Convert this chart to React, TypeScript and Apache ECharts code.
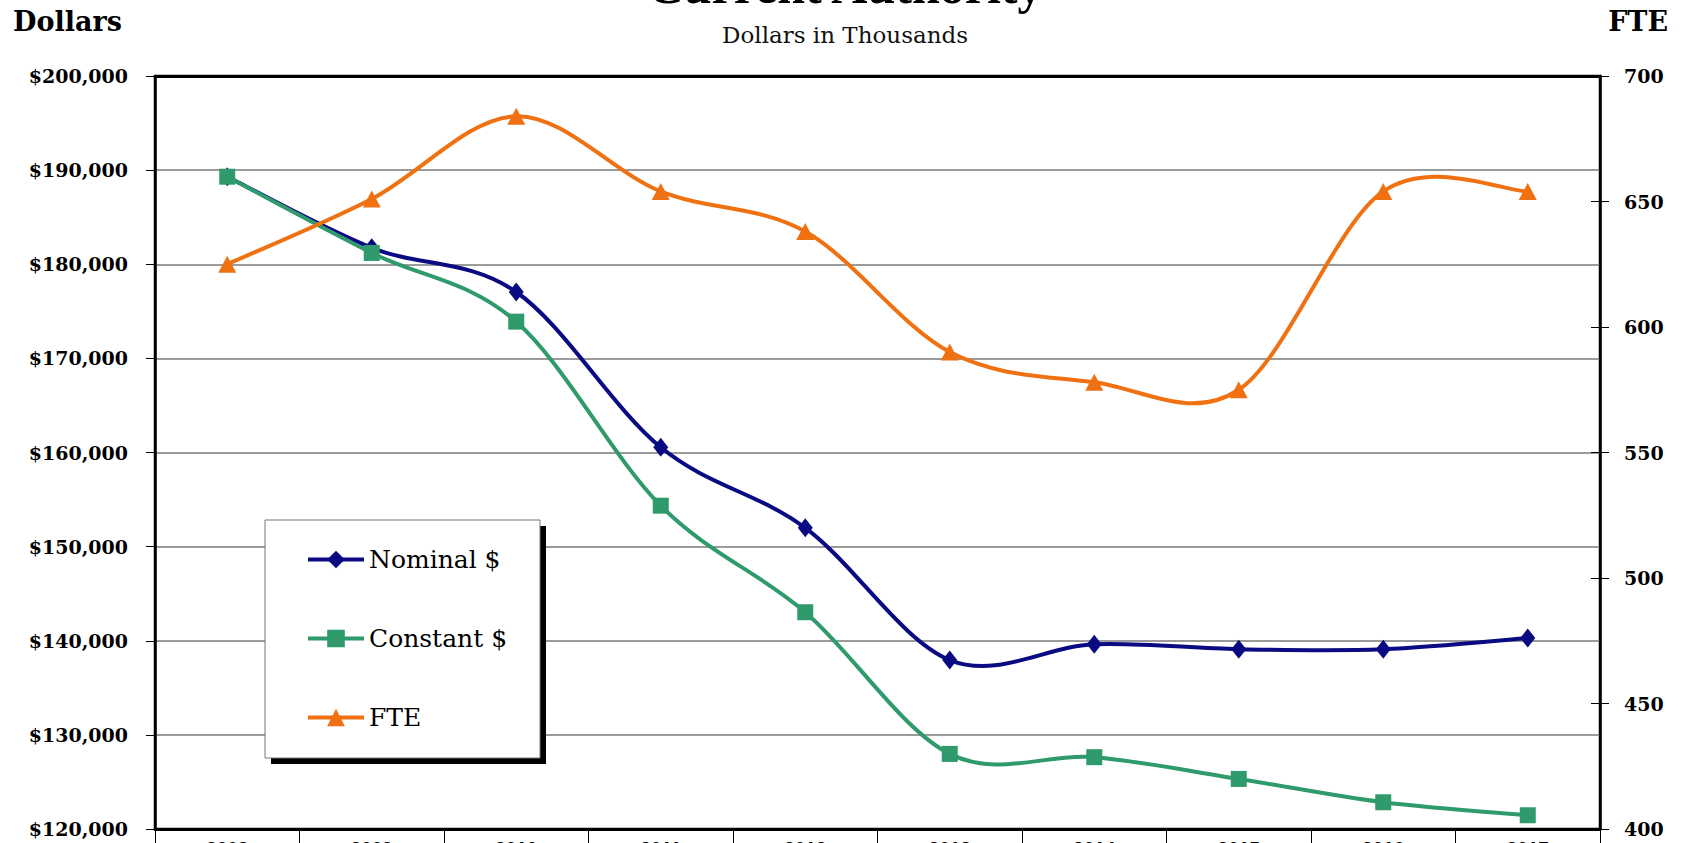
import React, { useEffect, useRef } from "react";
import * as echarts from "echarts";

const years = ["2008", "2009", "2010", "2011", "2012", "2013", "2014", "2015", "2016", "2017"];
const nominal = [189300, 181750, 177050, 160550, 152000, 137950, 139630, 139100, 139100, 140280];
const constant = [189300, 181200, 173900, 154350, 143030, 127980, 127630, 125320, 122840, 121460];
const fte = [625, 651, 684, 654, 638, 590, 578, 575, 654, 654];

const NAVY = "#0a0a82";
const GREEN = "#2f9a6c";
const ORANGE = "#ef7112";
const SERIF = "'Liberation Serif', 'DejaVu Serif', serif";
const DSERIF = "'DejaVu Serif', serif";

// Excel-like (Catmull-Rom) smoothed line, drawn from points given by the axes' scales
function smoothLine(values: number[], yAxisIndex: number, color: string, name: string) {
  return {
    name,
    type: "custom",
    coordinateSystem: "cartesian2d",
    yAxisIndex,
    z: 1,
    silent: true,
    data: values.map((v, i) => [i, v]),
    encode: { x: 0, y: 1 },
    renderItem: (params: any, api: any) => {
      if (params.dataIndex !== 0) return { type: "group", children: [] };
      const pts = values.map((v, i) => api.coord([i, v]));
      const n = pts.length;
      let d = `M${pts[0][0]},${pts[0][1]}`;
      for (let i = 0; i < n - 1; i++) {
        const p0 = pts[Math.max(i - 1, 0)];
        const p1 = pts[i];
        const p2 = pts[i + 1];
        const p3 = pts[Math.min(i + 2, n - 1)];
        const c1x = p1[0] + (p2[0] - p0[0]) / 6;
        const c1y = p1[1] + (p2[1] - p0[1]) / 6;
        const c2x = p2[0] - (p3[0] - p1[0]) / 6;
        const c2y = p2[1] - (p3[1] - p1[1]) / 6;
        d += ` C${c1x},${c1y} ${c2x},${c2y} ${p2[0]},${p2[1]}`;
      }
      return {
        type: "path",
        shape: { pathData: d },
        style: { fill: "none", stroke: color, lineWidth: 4, lineJoin: "round" },
      };
    },
  };
}

export default function App() {
  const ref = useRef<HTMLDivElement>(null);
  useEffect(() => {
    if (!ref.current) return;
    const chart = echarts.init(ref.current, undefined, { renderer: "svg" });
    chart.setOption({
      animation: false,
      backgroundColor: "#ffffff",
      grid: {
        left: 155,
        right: 82,
        top: 76,
        bottom: 14,
        show: true,
        borderColor: "#000",
        borderWidth: 2.5,
        outerBoundsMode: "none",
      },
      graphic: [
        {
          type: "text",
          x: 845,
          y: -39,
          style: {
            text: "Current Authority",
            font: `bold 50px ${SERIF}`,
            fill: "#000",
            textAlign: "center",
          },
          z: 10,
        },
        {
          type: "text",
          x: 845,
          y: 23,
          style: {
            text: "Dollars in Thousands",
            font: `23px ${DSERIF}`,
            fill: "#111",
            textAlign: "center",
          },
          z: 10,
        },
        {
          type: "text",
          x: 13,
          y: 8,
          style: { text: "Dollars", font: `bold 27px ${DSERIF}`, fill: "#000" },
          z: 10,
        },
        {
          type: "text",
          x: 1668,
          y: 8,
          style: { text: "FTE", font: `bold 27px ${DSERIF}`, fill: "#000", textAlign: "right" },
          z: 10,
        },
        {
          type: "rect",
          shape: { x: 271, y: 526, width: 275, height: 238 },
          style: { fill: "#000" },
          z: 8,
        },
        {
          type: "rect",
          shape: { x: 265, y: 520, width: 275, height: 238 },
          style: { fill: "#fff", stroke: "#777", lineWidth: 1 },
          z: 9,
        },
      ],
      legend: {
        orient: "vertical",
        left: 301,
        top: 542,
        itemGap: 54,
        itemWidth: 56,
        itemHeight: 22,
        z: 20,
        textStyle: { fontFamily: DSERIF, fontSize: 25, color: "#000", lineHeight: 25 },
        data: [
          { name: "Nominal $", lineStyle: { color: NAVY, width: 4, opacity: 1 } },
          { name: "Constant $", lineStyle: { color: GREEN, width: 4, opacity: 1 } },
          { name: "FTE", lineStyle: { color: ORANGE, width: 4, opacity: 1 } },
        ],
      },
      xAxis: [
        {
          type: "category",
          data: years,
          boundaryGap: true,
          axisLine: { lineStyle: { color: "#000", width: 3 } },
          axisTick: { show: true, length: 14, lineStyle: { color: "#000", width: 1 } },
          axisLabel: {
            fontFamily: "'Liberation Sans', Arial, sans-serif",
            fontWeight: "bold",
            fontSize: 19,
            color: "#000",
            margin: 10,
          },
        },
        {
          type: "category",
          data: years,
          position: "top",
          axisLine: { show: true, lineStyle: { color: "#000", width: 3 } },
          axisTick: { show: false },
          axisLabel: { show: false },
        },
      ],
      yAxis: [
        {
          type: "value",
          min: 120000,
          max: 200000,
          interval: 10000,
          position: "left",
          axisLine: { show: true, lineStyle: { color: "#000", width: 2.5 } },
          axisTick: { show: true, length: 9, lineStyle: { color: "#000" } },
          splitLine: { show: true, lineStyle: { color: "#7a7a7a", width: 1.5 } },
          axisLabel: {
            fontFamily: DSERIF,
            fontWeight: "bold",
            fontSize: 19,
            color: "#000",
            margin: 27,
            formatter: (v: number) => "$" + v.toLocaleString("en-US"),
          },
        },
        {
          type: "value",
          min: 400,
          max: 700,
          interval: 50,
          position: "right",
          axisLine: { show: true, lineStyle: { color: "#000", width: 2.5 } },
          axisTick: { show: true, length: 9, lineStyle: { color: "#000" } },
          splitLine: { show: false },
          axisLabel: { fontFamily: DSERIF, fontWeight: "bold", fontSize: 19, color: "#000", margin: 24 },
        },
        {
          type: "value",
          min: 400,
          max: 700,
          interval: 50,
          position: "right",
          axisLine: { show: false },
          axisTick: { show: true, inside: true, length: 9, lineStyle: { color: "#000" } },
          splitLine: { show: false },
          axisLabel: { show: false },
        },
      ],
      series: [
        smoothLine(nominal, 0, NAVY, "nominalLine"),
        smoothLine(constant, 0, GREEN, "constantLine"),
        smoothLine(fte, 1, ORANGE, "fteLine"),
        {
          name: "Nominal $",
          type: "line",
          data: nominal,
          yAxisIndex: 0,
          z: 3,
          symbol: "diamond",
          symbolSize: [15, 19],
          lineStyle: { color: NAVY, width: 4, opacity: 0 },
          itemStyle: { color: NAVY },
        },
        {
          name: "Constant $",
          type: "line",
          data: constant,
          yAxisIndex: 0,
          z: 3,
          symbol: "rect",
          symbolSize: 16,
          lineStyle: { color: GREEN, width: 4, opacity: 0 },
          itemStyle: { color: GREEN },
        },
        {
          name: "FTE",
          type: "line",
          data: fte,
          yAxisIndex: 1,
          z: 3,
          symbol: "triangle",
          symbolSize: [18, 17],
          lineStyle: { color: ORANGE, width: 4, opacity: 0 },
          itemStyle: { color: ORANGE },
        },
      ],
    });
    return () => chart.dispose();
  }, []);
  return (
    <div
      ref={ref}
      style={{ position: "fixed", left: 0, top: 0, width: 1682, height: 843, background: "#fff" }}
    />
  );
}
